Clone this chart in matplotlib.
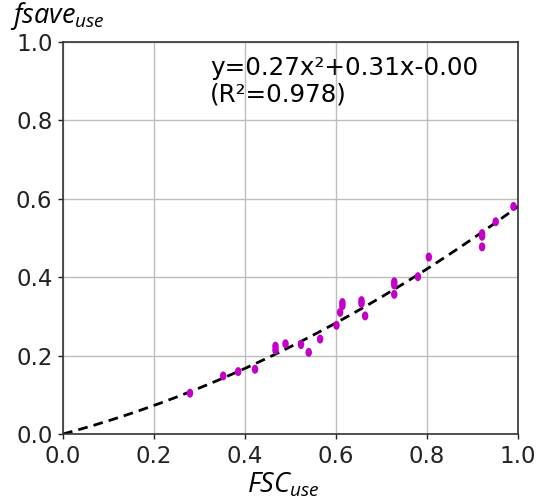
import matplotlib
matplotlib.use("Agg")
import matplotlib.pyplot as plt
import numpy as np
from matplotlib.markers import MarkerStyle
from matplotlib.transforms import Affine2D

plt.rcParams["mathtext.fontset"] = "custom"
plt.rcParams["mathtext.it"] = "Open Sans:italic"
plt.rcParams["mathtext.rm"] = "Open Sans"

# observed pairs
fsc_use = [0.279, 0.352, 0.385, 0.422, 0.467, 0.467, 0.489, 0.523, 0.540,
           0.565, 0.601, 0.609, 0.614, 0.614, 0.656, 0.656, 0.664, 0.728,
           0.728, 0.728, 0.780, 0.804, 0.921, 0.921, 0.921, 0.951, 0.990]
fsave_use = [0.104, 0.148, 0.159, 0.165, 0.224, 0.214, 0.230, 0.228, 0.208,
             0.242, 0.277, 0.310, 0.335, 0.327, 0.340, 0.333, 0.301, 0.388,
             0.380, 0.356, 0.401, 0.451, 0.511, 0.504, 0.477, 0.541, 0.580]

# quadratic fit y = a*x^2 + b*x + c
coef = [0.27, 0.31, 0.00]
r2 = 0.978
ticks = [0.0, 0.2, 0.4, 0.6, 0.8, 1.0]

MAGENTA = "#c400c8"

fig = plt.figure(figsize=(5.4, 4.99), dpi=100)
ax = fig.add_axes([0.1167, 0.1303, 0.8426, 0.7861])

xf = np.linspace(0, 1, 200)
ax.plot(xf, np.polyval(coef, xf), color="black", linestyle=(0, (3.5, 2.2)), linewidth=2.0, zorder=2)

dot = MarkerStyle("o", transform=Affine2D().scale(0.72, 1.0))
ax.scatter(fsc_use, fsave_use, marker=dot, s=42, color=MAGENTA, edgecolors="none", zorder=3)

ax.set_xlim(0, 1)
ax.set_ylim(0, 1)
ax.set_xticks(ticks)
ax.set_yticks(ticks)
ax.set_xticklabels([f"{t:.1f}" for t in ticks])
ax.set_yticklabels([f"{t:.1f}" for t in ticks])
ax.tick_params(labelsize=16.5, length=3.6, width=1, pad=4, colors="#222222")
ax.grid(True, color="#bdbdbd", linewidth=1.0)
ax.set_axisbelow(True)
for spine in ax.spines.values():
    spine.set_color("#333333")
    spine.set_linewidth(1.2)

ax.text(0.323, 0.916, f"y={coef[0]:.2f}x\u00b2+{coef[1]:.2f}x-{coef[2]:.2f}",
        transform=ax.transAxes, ha="left", va="baseline", fontsize=17.7, color="black")
ax.text(0.323, 0.847, f"(R\u00b2={r2:.3f})",
        transform=ax.transAxes, ha="left", va="baseline", fontsize=17.7, color="black")

fig.text(0.018, 0.953, r"$fsave_{use}$", fontsize=19.5, va="baseline")
fig.text(0.457, 0.014, r"$FSC_{use}$", fontsize=19.5, va="baseline")

fig.savefig("out.png", dpi=100)
